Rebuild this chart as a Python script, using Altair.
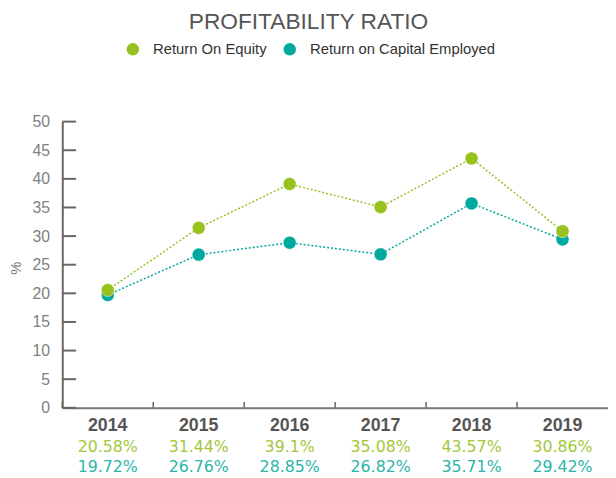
import altair as alt
import pandas as pd

years = ["2014", "2015", "2016", "2017", "2018", "2019"]
roe = [20.58, 31.44, 39.1, 35.08, 43.57, 30.86]
roce = [19.72, 26.76, 28.85, 26.82, 35.71, 29.42]
series_names = ["Return On Equity", "Return on Capital Employed"]
series_colors = ["#97c11f", "#00a99d"]
text_colors = ["#a2c83a", "#2cb5a8"]
y_ticks = [0, 5, 10, 15, 20, 25, 30, 35, 40, 45, 50]

rows = []
for zi, (name, vals) in enumerate(zip(series_names, [roe, roce])):
    for yr, v in zip(years, vals):
        rows.append({"year": yr, "series": name, "value": v,
                     "label": f"{v}%", "z": 1 - zi})
df = pd.DataFrame(rows)
years_df = pd.DataFrame({"year": years})
ticks_df = pd.DataFrame({"value": y_ticks})

W, H = 553, 290
FONT = "Liberation Sans"

xscale = alt.Scale(type="band", domain=years, paddingInner=0, paddingOuter=0)
yscale = alt.Scale(domain=[0, 50], nice=False)
color_scale = alt.Scale(domain=series_names, range=series_colors)

x_axis = alt.Axis(labels=False, ticks=False, domain=True, domainColor="#777",
                  domainWidth=2, title=None, grid=False)
y_axis = alt.Axis(values=y_ticks, ticks=False, labelPadding=13,
                  labelFontSize=16, labelColor="#808080", labelFont=FONT,
                  domainColor="#666", domainWidth=2, grid=False,
                  title="%", titleFontSize=15, titleColor="#777",
                  titleFont=FONT, titleFontWeight="normal",
                  titleX=-39, titleY=148)
legend = alt.Legend(title=None, orient="none", legendX=64, legendY=-81,
                    direction="horizontal", symbolType="circle",
                    symbolSize=160, symbolStrokeWidth=0, symbolOpacity=1,
                    labelFont=FONT, labelFontSize=15, labelColor="#333",
                    labelLimit=400, labelOffset=13, columnPadding=15, padding=0)


def X():
    return alt.X("year:N", scale=xscale, sort=years, axis=x_axis, title=None)


def Y(field="value"):
    return alt.Y(f"{field}:Q", scale=yscale, axis=y_axis, title="%")


base = alt.Chart(df)

line_layers = [
    base.transform_filter(alt.datum.series == name).mark_line(
        strokeDash=[2, 2], strokeWidth=1.5, color=col
    ).encode(x=X(), y=Y())
    for name, col in zip(series_names, series_colors)
]

points = base.mark_circle(size=175, opacity=1, stroke="white", strokeWidth=0.5).encode(
    x=X(), y=Y(),
    color=alt.Color("series:N", scale=color_scale, legend=legend),
    order=alt.Order("z:Q"),
)

ytick_rules = alt.Chart(ticks_df).mark_rule(color="#666", strokeWidth=2).encode(
    y=Y(), x=alt.value(0), x2=alt.value(14),
)

xtick_rules = alt.Chart(years_df).mark_rule(color="#666", strokeWidth=1.5).encode(
    x=alt.X("year:N", scale=xscale, sort=years, bandPosition=0, axis=x_axis, title=None),
    y=alt.value(H - 6), y2=alt.value(H),
)

year_text = alt.Chart(years_df).mark_text(
    font=FONT, fontSize=18, fontWeight="bold", color="#555", baseline="alphabetic"
).encode(x=X(), y=alt.value(H + 24), text="year:N")

roe_text = base.transform_filter(alt.datum.series == series_names[0]).mark_text(
    font="DejaVu Sans", fontSize=16, color=text_colors[0], baseline="alphabetic"
).encode(x=X(), y=alt.value(H + 45), text="label:N")

roce_text = base.transform_filter(alt.datum.series == series_names[1]).mark_text(
    font="DejaVu Sans", fontSize=16, color=text_colors[1], baseline="alphabetic"
).encode(x=X(), y=alt.value(H + 65), text="label:N")

chart = alt.layer(
    *line_layers, ytick_rules, xtick_rules, points, year_text, roe_text, roce_text
).properties(
    width=W, height=H,
    autosize=alt.AutoSizeParams(type="none"),
    padding={"left": 55, "top": 112, "right": 0, "bottom": 68},
    title=alt.TitleParams("PROFITABILITY RATIO", fontSize=23, font=FONT,
                          fontWeight="normal", color="#555", anchor="middle",
                          frame="bounds", offset=8),
).configure_view(stroke=None)

chart.save("out.html", embed_options={"renderer": "svg", "actions": False})
